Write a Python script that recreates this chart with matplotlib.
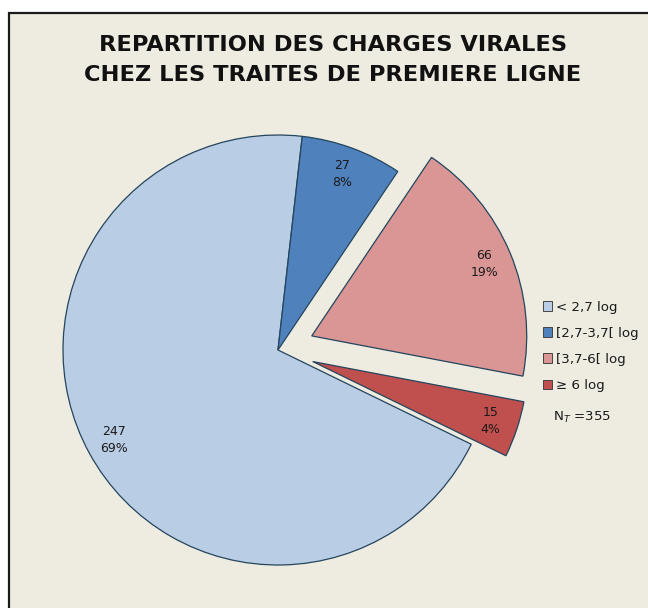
import numpy as np
import matplotlib.pyplot as plt
from matplotlib.patches import Patch, Rectangle

# Viral load groups among first-line treated patients
categories = ["< 2,7 log", "[2,7-3,7[ log", "[3,7-6[ log", "\u2265 6 log"]
counts = [247, 27, 66, 15]
pct_labels = ["69%", "8%", "19%", "4%"]
total_label = "N$_{T}$ =355"

colors = ["#B9CDE5", "#4F81BD", "#D99694", "#C0504D"]
explode = [0, 0, 0.17, 0.17]
bg = "#EEECE1"

W, H = 648, 608
fig = plt.figure(figsize=(W / 100, H / 100), dpi=100)
fig.patch.set_facecolor("white")

# framed chart area
fig.patches.append(Rectangle((9 / W, -0.1), 1.2, 1 - 13 / H + 0.1,
                             transform=fig.transFigure, facecolor=bg,
                             edgecolor="#1a1a1a", linewidth=1.6, zorder=-10))

ax = fig.add_axes([0, 0, 1, 1])
ax.set_facecolor("none")

wedges, _ = ax.pie(counts, colors=colors, explode=explode,
                   startangle=-26, counterclock=False,
                   wedgeprops=dict(edgecolor="#24455e", linewidth=0.9))

# one pixel = 1/215 data units, pie centre at (278, 350) px
scale = 215.0
cx, cy = 278.0, 350.0
ax.set_xlim(-cx / scale, (W - cx) / scale)
ax.set_ylim(-(H - cy) / scale, cy / scale)
ax.set_aspect("equal")
ax.axis("off")

for w, n, p in zip(wedges, counts, pct_labels):
    theta = np.deg2rad((w.theta1 + w.theta2) / 2)
    x0, y0 = w.center
    d = 0.87 * w.r
    ax.text(x0 + d * np.cos(theta), y0 + d * np.sin(theta), f"{n}\n{p}",
            ha="center", va="center", fontsize=9, family="DejaVu Sans",
            color="#1a1a1a", linespacing=1.4)

fig.text(333 / W, 1 - 45 / H, "REPARTITION DES CHARGES VIRALES",
         ha="center", va="center", fontsize=16.2, fontweight="bold",
         family="DejaVu Sans", color="#111111")
fig.text(333 / W, 1 - 75 / H, "CHEZ LES TRAITES DE PREMIERE LIGNE",
         ha="center", va="center", fontsize=16.2, fontweight="bold",
         family="DejaVu Sans", color="#111111")

handles = [Patch(facecolor=c, edgecolor="#444444", linewidth=0.7) for c in colors]
leg = fig.legend(handles, categories, loc="upper left",
                 bbox_to_anchor=(536 / W, 1 - 294 / H), frameon=False,
                 handlelength=0.7, handleheight=0.7, handletextpad=0.3,
                 labelspacing=0.98, borderpad=0,
                 prop=dict(family="DejaVu Sans", size=9.6))
for t in leg.get_texts():
    t.set_color("#1a1a1a")

fig.text(553 / W, 1 - 417 / H, total_label, ha="left", va="center",
         fontsize=9.6, family="DejaVu Sans", color="#1a1a1a")

plt.savefig("out.png", dpi=100, facecolor=fig.get_facecolor())
